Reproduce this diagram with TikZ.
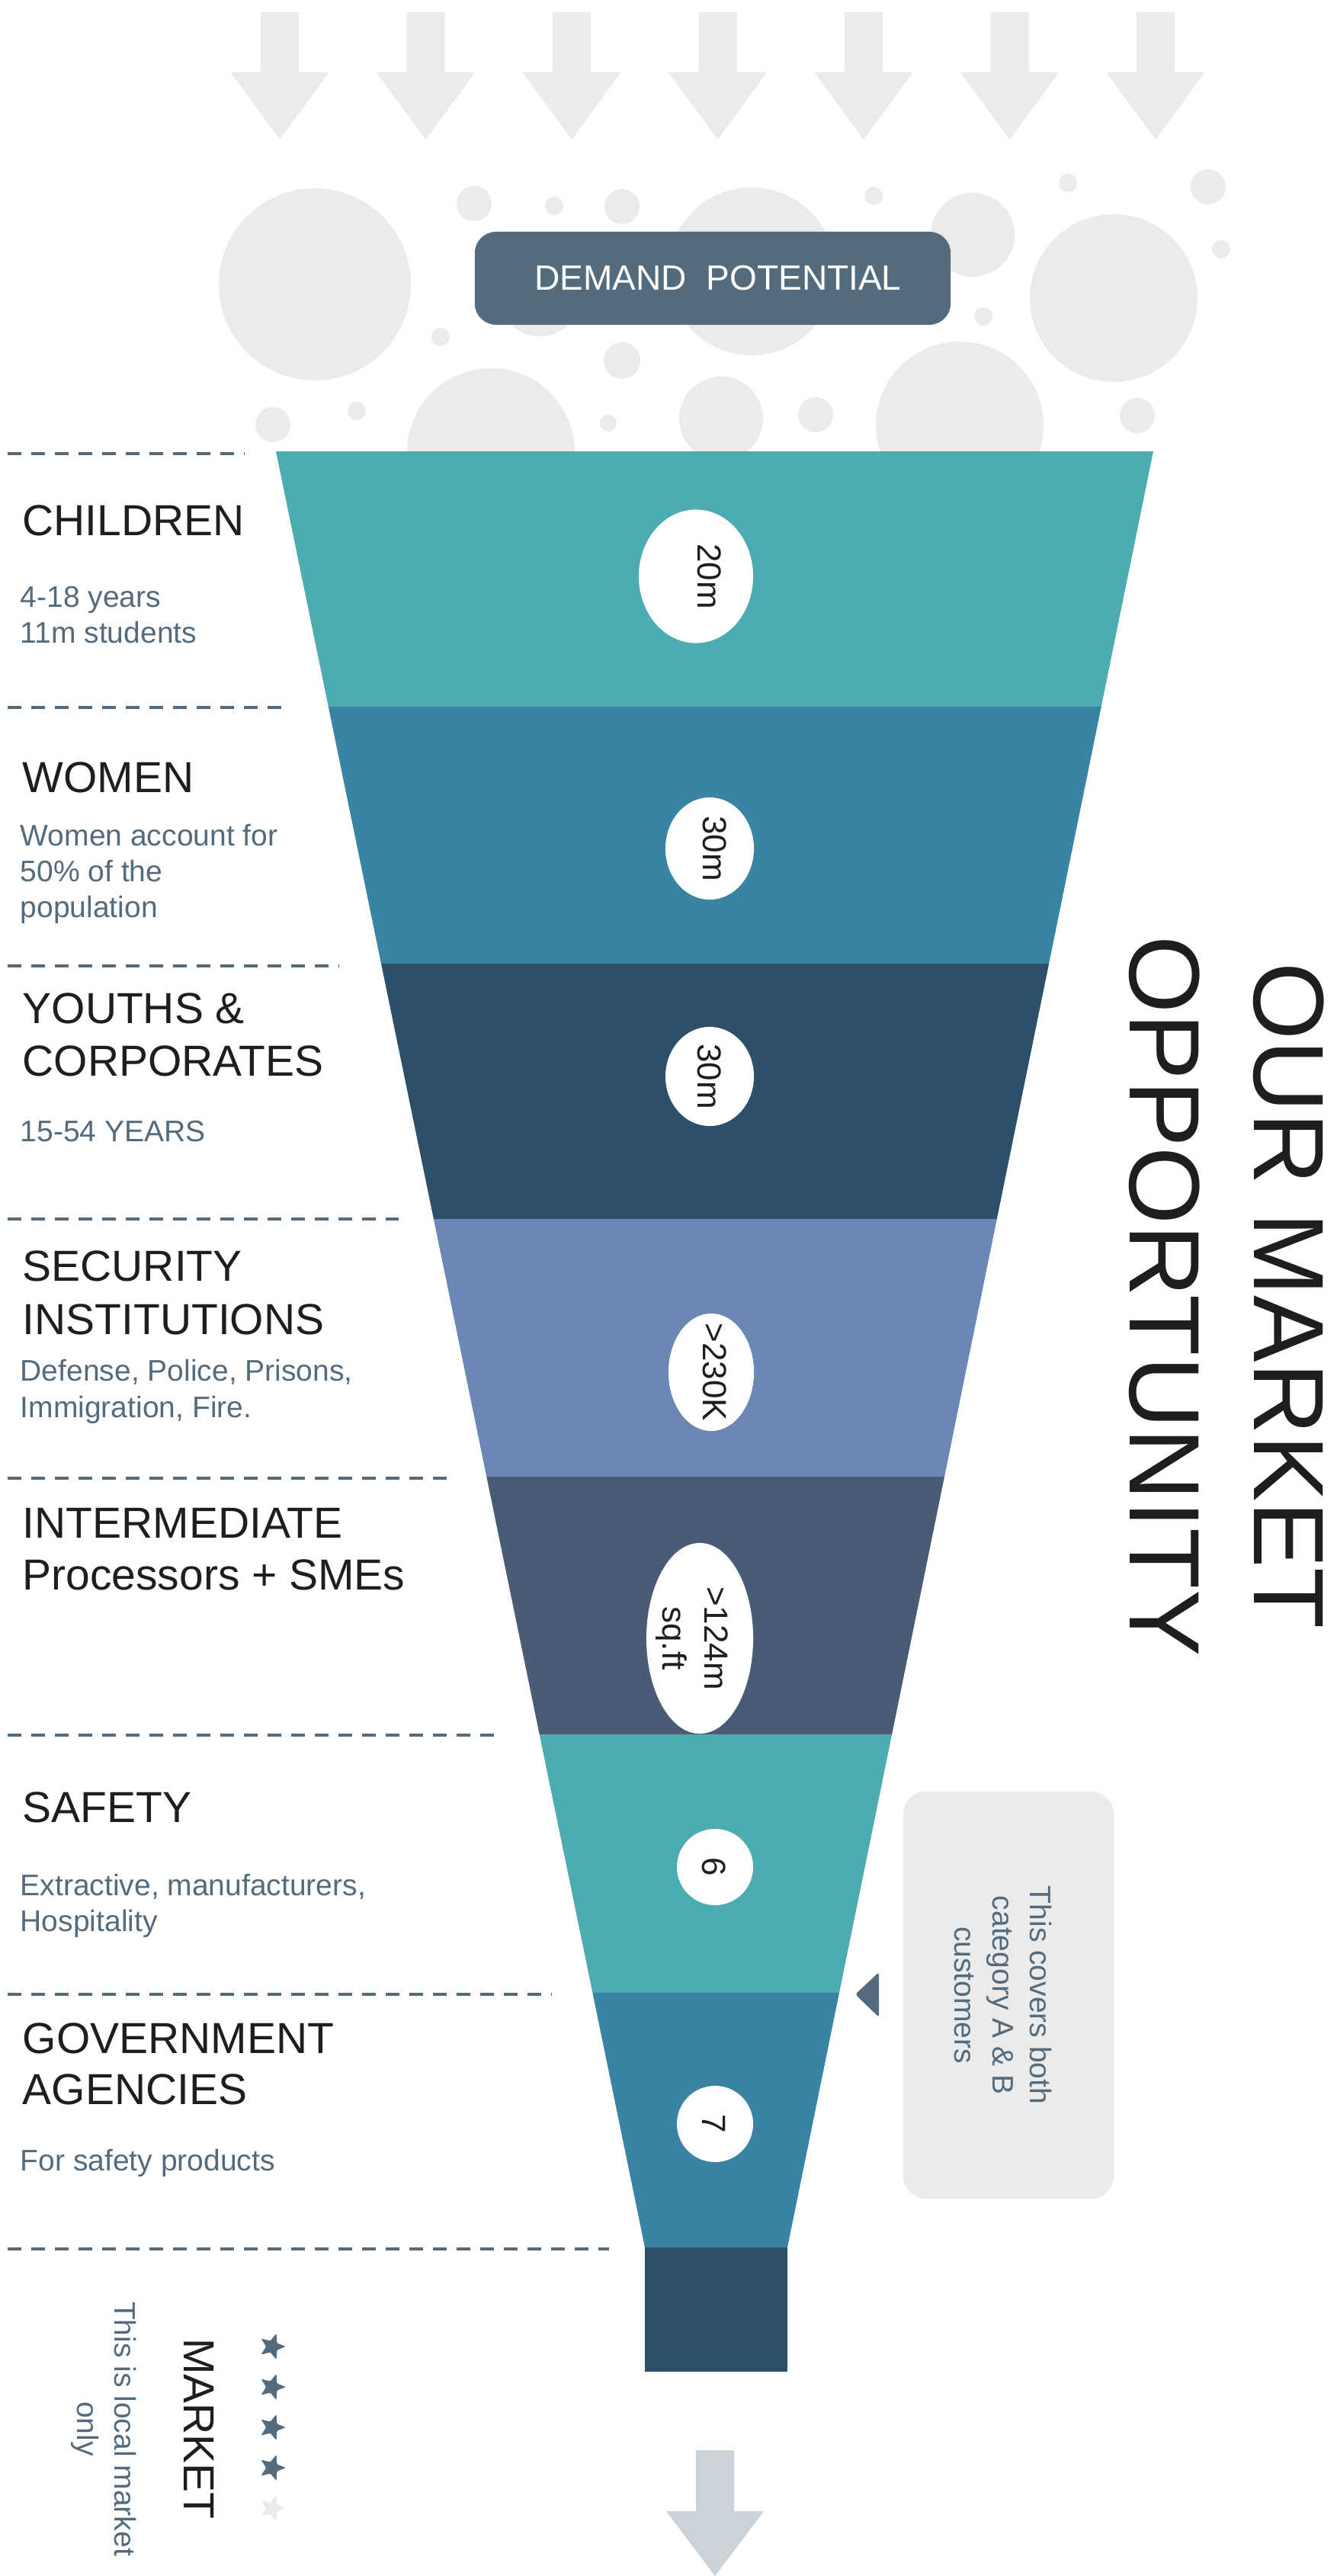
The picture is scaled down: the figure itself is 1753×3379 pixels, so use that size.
\documentclass[tikz,border=0pt]{standalone}
\usepackage{fontspec}
\setmainfont{Liberation Sans}
\usetikzlibrary{shapes.geometric}

\definecolor{bubble}{HTML}{EBEBEB}
\definecolor{slate}{HTML}{546B7D}
\definecolor{inktext}{HTML}{1E1E20}
\definecolor{tealA}{HTML}{4CACB2}
\definecolor{blueB}{HTML}{3A84A3}
\definecolor{navyC}{HTML}{2D506A}
\definecolor{periD}{HTML}{6B88B4}
\definecolor{slateE}{HTML}{4A5B75}
\definecolor{exitarrow}{HTML}{CBD3D9}

\begin{document}
\begin{tikzpicture}[x=0.01cm,y=-0.01cm,
  heading/.style={anchor=base west, inner sep=0, text=inktext, font=\fontsize{16.2}{19}\selectfont},
  detail/.style={anchor=base west, inner sep=0, text=slate, font=\fontsize{11.1}{13}\selectfont},
  divider/.style={draw=slate, line width=1.15pt, dash pattern=on 0.18cm off 0.13cm},
  badge/.style={ellipse, fill=white, inner sep=0},
  badgetext/.style={rotate=-90, inner sep=0, text=inktext, align=center, font=\fontsize{12.5}{15.6}\selectfont},
  sidetext/.style={rotate=-90, inner sep=0, align=center},
]
\useasboundingbox (0,0) rectangle (1753,3379);
\fill[white] (0,0) rectangle (1753,3379);

% incoming arrows
\foreach \i in {0,...,6} {
  \pgfmathsetmacro\cx{367+191.5*\i}
  \fill[bubble] (\cx-25,16) -- (\cx+25,16) -- (\cx+25,95) -- (\cx+64.5,95)
    -- (\cx,183) -- (\cx-64.5,95) -- (\cx-25,95) -- cycle;
}

% demand bubbles
\foreach \cx/\cy/\r in {413/373/126, 622/267/23, 727/270/12, 816/271/23,
    986/356/110, 1146/257/12, 1276/308/55, 1401/240/12, 1585/245/23,
    1461/391/110, 1602/327/12, 1290/415/12, 708/386/55, 578/442/12,
    816/473/24, 358/557/23, 468/539/12, 644/593/110, 798/555/11,
    946/549/55, 1070/544/23, 1259/558/110, 1492/545/23}
  \fill[bubble] (\cx,\cy) circle[radius=\r];

% header box
\node[fill=slate, rounded corners=0.28cm, minimum width=6.24cm, minimum height=1.22cm,
  text=white, font=\fontsize{13.1}{16}\selectfont] (demand) at (935,365) {\hspace{0.14cm}DEMAND\ \ POTENTIAL};

% funnel bands
\fill[tealA]  (362,592)   -- (1513,592)   -- (1444.7,927)  -- (430.8,927)  -- cycle;
\fill[blueB]  (430.8,927) -- (1444.7,927) -- (1376.1,1264) -- (500.0,1264) -- cycle;
\fill[navyC]  (500.0,1264) -- (1376.1,1264) -- (1307.8,1599) -- (568.9,1599) -- cycle;
\fill[periD]  (568.9,1599) -- (1307.8,1599) -- (1239.0,1937) -- (638.3,1937) -- cycle;
\fill[slateE] (638.3,1937) -- (1239.0,1937) -- (1170.1,2275) -- (707.7,2275) -- cycle;
\fill[tealA]  (707.7,2275) -- (1170.1,2275) -- (1101.0,2614) -- (777.4,2614) -- cycle;
\fill[blueB]  (777.4,2614) -- (1101.0,2614) -- (1033,2948)   -- (846,2948)   -- cycle;
\fill[navyC]  (846,2948) rectangle (1033,3111);

% value badges
\node[badge, minimum width=1.50cm, minimum height=1.75cm] (b1) at (913,756) {};
\node[badgetext] (v1) at (931,756) {20m};
\node[badge, minimum width=1.16cm, minimum height=1.34cm] (b2) at (931,1113) {};
\node[badgetext] (v2) at (938,1113) {30m};
\node[badge, minimum width=1.16cm, minimum height=1.30cm] (b3) at (931,1412) {};
\node[badgetext] (v3) at (931,1412) {30m};
\node[badge, minimum width=1.12cm, minimum height=1.54cm] (b4) at (933,1800) {};
\node[badgetext] (v4) at (938,1800) {>230K};
\node[badge, minimum width=1.40cm, minimum height=2.50cm] (b5) at (918,2149) {};
\node[badgetext] (v5) at (908,2149) {>124m\\sq.ft};
\node[badge, minimum width=1.0cm, minimum height=1.0cm] (b6) at (938,2449) {};
\node[badgetext] (v6) at (937,2449) {6};
\node[badge, minimum width=1.0cm, minimum height=1.0cm] (b7) at (938,2786) {};
\node[badgetext] (v7) at (937,2786) {7};

% section dividers
\draw[divider] (10,595)  -- (321,595);
\draw[divider] (10,928)  -- (376,928);
\draw[divider] (10,1267) -- (445,1267);
\draw[divider] (10,1599) -- (523,1599);
\draw[divider] (10,1939) -- (594,1939);
\draw[divider] (10,2276) -- (660,2276);
\draw[divider] (10,2616) -- (724,2616);
\draw[divider] (10,2950) -- (799,2950);

% segment labels
\node[heading] (h1)  at (29,702)  {CHILDREN};
\node[detail]  (d1a) at (26,796)  {4-18 years};
\node[detail]  (d1b) at (26,843)  {11m students};
\node[heading] (h2)  at (29,1039) {WOMEN};
\node[detail]  (d2a) at (26,1109) {Women account for};
\node[detail]  (d2b) at (26,1156) {50\% of the};
\node[detail]  (d2c) at (26,1203) {population};
\node[heading] (h3a) at (29,1342) {YOUTHS \&};
\node[heading] (h3b) at (29,1411) {CORPORATES};
\node[detail]  (d3)  at (26,1497) {15-54 YEARS};
\node[heading] (h4a) at (29,1680) {SECURITY};
\node[heading] (h4b) at (29,1750) {INSTITUTIONS};
\node[detail]  (d4a) at (26,1811) {Defense, Police, Prisons,};
\node[detail]  (d4b) at (26,1859) {Immigration, Fire.};
\node[heading] (h5a) at (29,2017) {INTERMEDIATE};
\node[heading] (h5b) at (29,2085) {Processors + SMEs};
\node[heading] (h6)  at (29,2390) {SAFETY};
\node[detail]  (d6a) at (26,2486) {Extractive, manufacturers,};
\node[detail]  (d6b) at (26,2533) {Hospitality};
\node[heading] (h7a) at (29,2693) {GOVERNMENT};
\node[heading] (h7b) at (29,2760) {AGENCIES};
\node[detail]  (d7)  at (26,2847) {For safety products};

% side title
\node[sidetext, text=inktext, font=\fontsize{37.3}{46.3}\selectfont] (title) at (1609,1700)
  {OUR MARKET\\OPPORTUNITY};

% callout for the lower segments
\node[fill=bubble, rounded corners=0.3cm, minimum width=2.76cm, minimum height=5.34cm] (note) at (1323,2617) {};
\node[sidetext, text=slate, font=\fontsize{11.1}{14}\selectfont] (notetext) at (1316,2617)
  {This covers both\\category A \& B\\customers};
\fill[slate, rounded corners=1pt] (1153,2587) -- (1153,2646) -- (1122,2616) -- cycle;

% rating stars
\foreach \sy/\col in {3078/slate, 3131/slate, 3184/slate, 3237/slate, 3290/bubble}
  \fill[\col, shift={(357,\sy)}, rounded corners=0.4pt]
    (0:18) -- (36:7.8) -- (72:18) -- (108:7.8) -- (144:18) -- (180:7.8)
    -- (216:18) -- (252:7.8) -- (288:18) -- (324:7.8) -- cycle;

\node[sidetext, text=inktext, font=\fontsize{16.2}{19}\selectfont] (market) at (261,3186) {MARKET};
\node[sidetext, text=slate, font=\fontsize{11.1}{13.7}\selectfont] (local) at (136,3186)
  {This is local market\\only};

% outgoing arrow
\fill[exitarrow] (913,3214) -- (963,3214) -- (963,3294) -- (1002,3294) -- (938,3379)
  -- (874,3294) -- (913,3294) -- cycle;
\end{tikzpicture}
\end{document}
